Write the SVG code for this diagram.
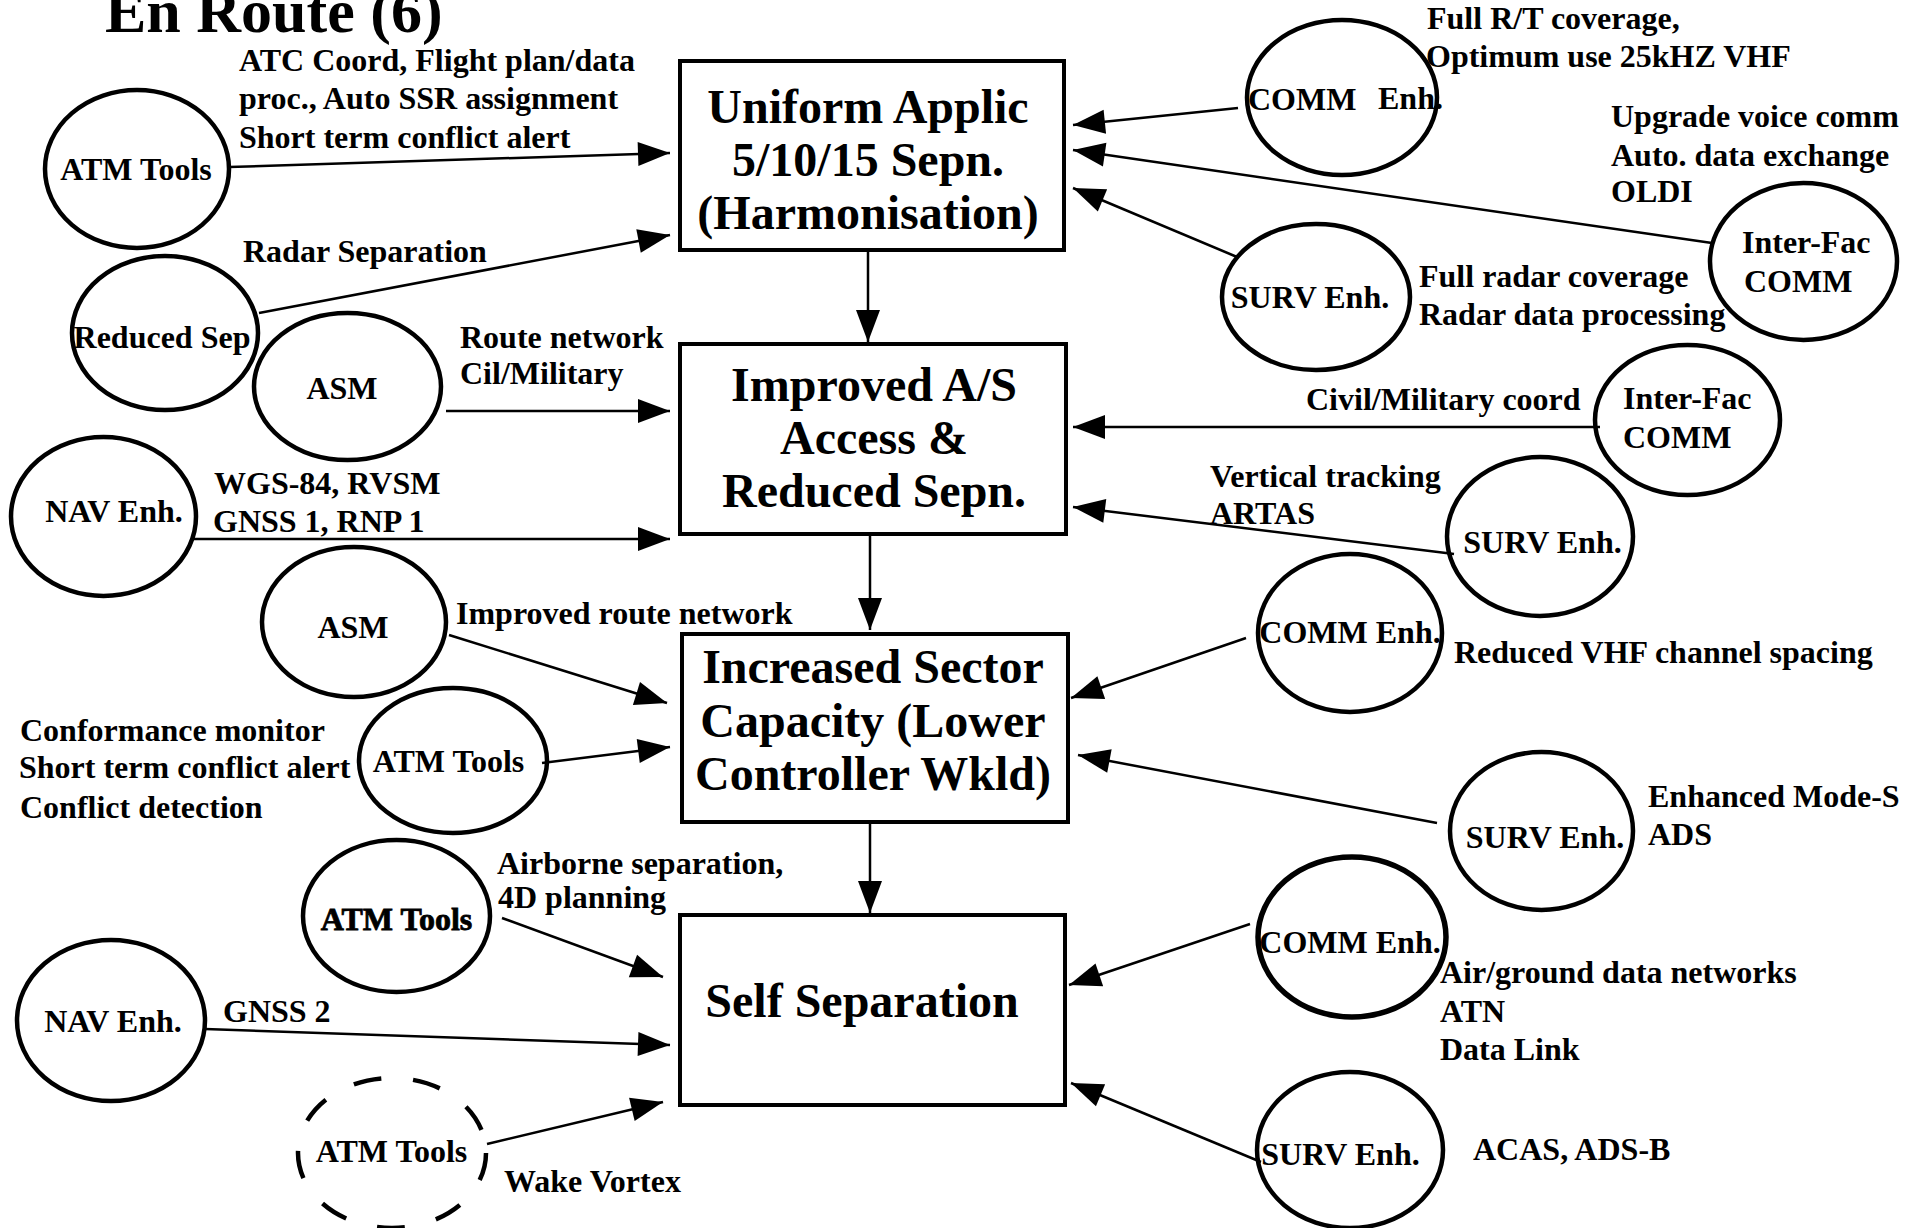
<svg xmlns="http://www.w3.org/2000/svg" width="1917" height="1228" viewBox="0 0 1917 1228">
<defs>
<style>
text{font-family:"Liberation Serif","Times New Roman",serif;font-weight:bold;fill:#000}
.lbl{font-size:32px}
.nl{font-size:32px;text-anchor:middle}
.big{font-size:48px;text-anchor:middle}
.title{font-size:62px}
.node ellipse{fill:none;stroke:#000;stroke-width:4.5}
.box rect{fill:#fff;stroke:#000;stroke-width:4}
.dash{stroke-dasharray:28 32;stroke-width:5}
#connectors line{stroke:#000;stroke-width:2.5;marker-end:url(#ah)}
</style>
<marker id="ah" markerUnits="userSpaceOnUse" markerWidth="32" markerHeight="24" refX="32" refY="12" orient="auto" overflow="visible">
<path d="M0,0 L32,12 L0,24 z" fill="#000"/>
</marker>
</defs>
<rect width="1917" height="1228" fill="#fff"/>
<text class="title" x="105" y="32">En Route (6)</text>

<g id="connectors">
<line x1="229" y1="167" x2="670" y2="153"/>
<line x1="259" y1="313" x2="670" y2="235"/>
<line x1="446" y1="411" x2="670" y2="411"/>
<line x1="192" y1="539" x2="670" y2="539"/>
<line x1="449" y1="635" x2="667" y2="703"/>
<line x1="542" y1="763" x2="670" y2="747"/>
<line x1="502" y1="918" x2="663" y2="977"/>
<line x1="205" y1="1029" x2="670" y2="1045"/>
<line x1="487" y1="1144" x2="663" y2="1102"/>
<line x1="1238" y1="108" x2="1073" y2="125"/>
<line x1="1712" y1="243" x2="1073" y2="150"/>
<line x1="1237" y1="257" x2="1073" y2="188"/>
<line x1="1600" y1="427" x2="1073" y2="427"/>
<line x1="1454" y1="554" x2="1073" y2="507"/>
<line x1="1246" y1="638" x2="1071" y2="698"/>
<line x1="1437" y1="823" x2="1078" y2="755"/>
<line x1="1250" y1="924" x2="1069" y2="985"/>
<line x1="1261" y1="1162" x2="1071" y2="1083"/>
<line x1="868" y1="251" x2="868" y2="342"/>
<line x1="870" y1="535" x2="870" y2="630"/>
<line x1="870" y1="822" x2="870" y2="913"/>
</g>

<g id="box-uniform" class="box">
<rect x="680" y="61" width="384" height="189"/>
<text class="big" x="868" y="123">Uniform Applic</text>
<text class="big" x="868" y="176">5/10/15 Sepn.</text>
<text class="big" x="868" y="229">(Harmonisation)</text>
</g>
<g id="box-improved" class="box">
<rect x="680" y="344" width="386" height="190"/>
<text class="big" x="874" y="401">Improved A/S</text>
<text class="big" x="874" y="454">Access &amp;</text>
<text class="big" x="874" y="507">Reduced Sepn.</text>
</g>
<g id="box-increased" class="box">
<rect x="682" y="634" width="386" height="188"/>
<text class="big" x="873" y="683">Increased Sector</text>
<text class="big" x="873" y="737">Capacity (Lower</text>
<text class="big" x="873" y="790">Controller Wkld)</text>
</g>
<g id="box-self" class="box">
<rect x="680" y="915" width="385" height="190"/>
<text class="big" x="862" y="1017">Self Separation</text>
</g>

<g id="n-atm1" class="node">
<ellipse cx="137" cy="169" rx="92" ry="79"/>
<text class="nl" x="136" y="180">ATM Tools</text>
</g>
<g id="n-redsep" class="node">
<ellipse cx="165" cy="333" rx="93" ry="77"/>
<text class="nl" x="162" y="348">Reduced Sep</text>
</g>
<g id="n-asm1" class="node">
<ellipse cx="347.5" cy="386.5" rx="93.5" ry="73.5"/>
<text class="nl" x="342" y="399">ASM</text>
</g>
<g id="n-nav1" class="node">
<ellipse cx="103.5" cy="516.5" rx="92.5" ry="79.5"/>
<text class="nl" x="114" y="522">NAV Enh.</text>
</g>
<g id="n-asm2" class="node">
<ellipse cx="354" cy="622" rx="92" ry="75"/>
<text class="nl" x="353" y="638">ASM</text>
</g>
<g id="n-atm2" class="node">
<ellipse cx="453" cy="760.5" rx="94" ry="72.5"/>
<text class="nl" x="448.5" y="772">ATM Tools</text>
</g>
<g id="n-atm3" class="node">
<ellipse cx="396.5" cy="916" rx="93.5" ry="76"/>
<text class="nl" x="396.5" y="930" stroke="#000" stroke-width="0.8">ATM Tools</text>
</g>
<g id="n-nav2" class="node">
<ellipse cx="111" cy="1020.5" rx="94" ry="80.5"/>
<text class="nl" x="113" y="1032">NAV Enh.</text>
</g>
<g id="n-atm4" class="node">
<ellipse class="dash" cx="392" cy="1153" rx="94" ry="75"/>
<text class="nl" x="391.5" y="1162">ATM Tools</text>
</g>

<g id="n-comm1" class="node">
<ellipse cx="1342" cy="97.5" rx="95" ry="77.5"/>
<text class="lbl" x="1248" y="110">COMM</text>
<text class="lbl" x="1378" y="109">Enh.</text>
</g>
<g id="n-ifc1" class="node">
<ellipse cx="1803.5" cy="261.5" rx="93.5" ry="78.5"/>
<text class="lbl" x="1742" y="253">Inter-Fac</text>
<text class="lbl" x="1744" y="292">COMM</text>
</g>
<g id="n-surv1" class="node">
<ellipse cx="1316" cy="297" rx="94" ry="73"/>
<text class="nl" x="1310" y="308">SURV Enh.</text>
</g>
<g id="n-ifc2" class="node">
<ellipse cx="1687.5" cy="420" rx="92.5" ry="75"/>
<text class="lbl" x="1623" y="409">Inter-Fac</text>
<text class="lbl" x="1623" y="448">COMM</text>
</g>
<g id="n-surv2" class="node">
<ellipse cx="1540" cy="536.5" rx="93" ry="79.5"/>
<text class="nl" x="1542.5" y="553">SURV Enh.</text>
</g>
<g id="n-comm2" class="node">
<ellipse cx="1350" cy="633" rx="92" ry="79"/>
<text class="nl" x="1350" y="643">COMM Enh.</text>
</g>
<g id="n-surv3" class="node">
<ellipse cx="1541.5" cy="831" rx="91.5" ry="79"/>
<text class="nl" x="1545" y="848">SURV Enh.</text>
</g>
<g id="n-comm3" class="node">
<ellipse cx="1352" cy="937" rx="94" ry="80" style="stroke-width:5.5"/>
<text class="nl" x="1350" y="953">COMM Enh.</text>
</g>
<g id="n-surv4" class="node">
<ellipse cx="1350" cy="1150" rx="93" ry="78"/>
<text class="nl" x="1340.5" y="1165">SURV Enh.</text>
</g>

<g id="labels">
<text class="lbl" x="239" y="71">ATC Coord, Flight plan/data</text>
<text class="lbl" x="239" y="109">proc., Auto SSR assignment</text>
<text class="lbl" x="239" y="148">Short term conflict alert</text>
<text class="lbl" x="243" y="262">Radar Separation</text>
<text class="lbl" x="460" y="348">Route network</text>
<text class="lbl" x="460" y="384">Cil/Military</text>
<text class="lbl" x="214" y="494">WGS-84, RVSM</text>
<text class="lbl" x="213" y="532">GNSS 1, RNP 1</text>
<text class="lbl" x="456" y="624">Improved route network</text>
<text class="lbl" x="20" y="741">Conformance monitor</text>
<text class="lbl" x="19" y="778">Short term conflict alert</text>
<text class="lbl" x="20" y="818">Conflict detection</text>
<text class="lbl" x="497" y="874">Airborne separation,</text>
<text class="lbl" x="498" y="908">4D planning</text>
<text class="lbl" x="223" y="1022">GNSS 2</text>
<text class="lbl" x="504" y="1192">Wake Vortex</text>
<text class="lbl" x="1427" y="29">Full R/T coverage,</text>
<text class="lbl" x="1426" y="67">Optimum use 25kHZ VHF</text>
<text class="lbl" x="1611" y="127">Upgrade voice comm</text>
<text class="lbl" x="1611" y="166">Auto. data exchange</text>
<text class="lbl" x="1611" y="202">OLDI</text>
<text class="lbl" x="1419" y="287">Full radar coverage</text>
<text class="lbl" x="1419" y="325">Radar data processing</text>
<text class="lbl" x="1306" y="410">Civil/Military coord</text>
<text class="lbl" x="1210" y="487">Vertical tracking</text>
<text class="lbl" x="1210" y="524">ARTAS</text>
<text class="lbl" x="1454" y="663">Reduced VHF channel spacing</text>
<text class="lbl" x="1648" y="807">Enhanced Mode-S</text>
<text class="lbl" x="1648" y="845">ADS</text>
<text class="lbl" x="1440" y="983">Air/ground data networks</text>
<text class="lbl" x="1440" y="1022">ATN</text>
<text class="lbl" x="1440" y="1060">Data Link</text>
<text class="lbl" x="1473" y="1160">ACAS, ADS-B</text>
</g>
</svg>
